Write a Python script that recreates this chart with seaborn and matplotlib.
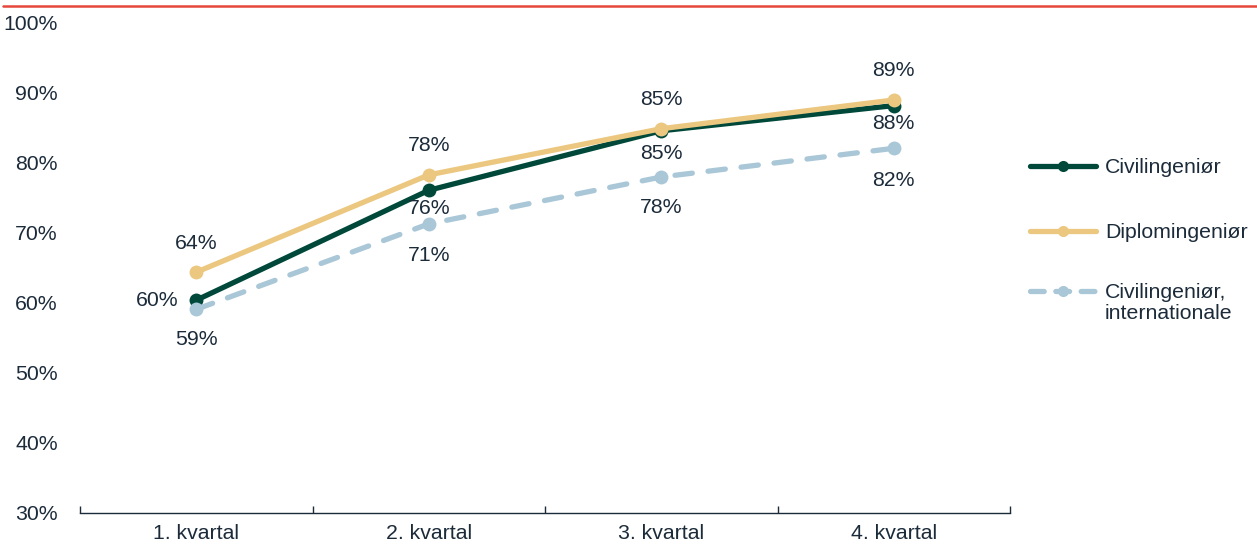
import matplotlib
matplotlib.use("Agg")
import matplotlib.pyplot as plt
from matplotlib.lines import Line2D
from matplotlib.ticker import FixedLocator, PercentFormatter
import numpy as np
import pandas as pd
import seaborn as sns

# Data
kvartaler = ["1. kvartal", "2. kvartal", "3. kvartal", "4. kvartal"]
civilingenior = [60.4, 76.1, 84.6, 88.2]
diplomingenior = [64.4, 78.3, 84.9, 89.0]
civ_international = [59.1, 71.3, 78.0, 82.1]
series_names = ["Civilingeniør", "Diplomingeniør", "Civilingeniør,\ninternationale"]

colors = ["#00493a", "#ebc77f", "#a9c7d7"]
text_color = "#1c2b3a"
fs = 15.3
dash = (0, (3.3, 3.0))

df = pd.DataFrame({
    "kvartal": kvartaler * 3,
    "andel": civilingenior + diplomingenior + civ_international,
    "serie": [s for s in series_names for _ in kvartaler],
})

sns.set_theme(style="white")
plt.rcParams["font.family"] = ["Liberation Sans", "DejaVu Sans"]

W, H = 1257, 547
fig = plt.figure(figsize=(W / 100, H / 100), dpi=100)
ax = fig.add_axes([80 / W, 1 - 513 / H, 930 / W, 490 / H])

linestyles = ["-", "-", dash]
for name, color, ls in zip(series_names, colors, linestyles):
    sub = df[df["serie"] == name]
    sns.lineplot(data=sub, x="kvartal", y="andel", ax=ax, color=color,
                 linewidth=3.8, linestyle=ls, marker="o", markersize=10,
                 markeredgewidth=0, dash_capstyle="round", solid_capstyle="round",
                 sort=False, legend=False)

# Data labels: (series values, offsets in points)
label_sets = [
    (civilingenior, [(-28, 0), (0, -13), (0, -16), (0, -13)]),
    (diplomingenior, [(0, 21), (0, 21), (0, 21), (0, 21)]),
    (civ_international, [(0, -22), (0, -23), (0, -22), (0, -23)]),
]
for vals, offs in label_sets:
    for i, (v, (dx, dy)) in enumerate(zip(vals, offs)):
        ax.annotate(f"{v:.0f}%", (i, v), xytext=(dx, dy), textcoords="offset points",
                    ha="center", va="center", fontsize=fs, color=text_color)

ax.set_xlim(-0.5, 3.5)
ax.set_ylim(30, 100)
ax.yaxis.set_major_locator(FixedLocator(np.arange(30, 101, 10)))
ax.yaxis.set_major_formatter(PercentFormatter(decimals=0))
ax.set_xlabel("")
ax.set_ylabel("")

for side in ["left", "right", "top"]:
    ax.spines[side].set_visible(False)
ax.spines["bottom"].set_color(text_color)
ax.spines["bottom"].set_linewidth(1.0)

ax.tick_params(axis="y", length=0, pad=16, labelsize=fs, labelcolor=text_color)
ax.tick_params(axis="x", which="major", bottom=True, length=0, pad=8,
               labelsize=fs, labelcolor=text_color)
ax.xaxis.set_minor_locator(FixedLocator([-0.5, 0.5, 1.5, 2.5, 3.5]))
ax.tick_params(axis="x", which="minor", bottom=True, direction="in", length=5,
               width=1.0, color=text_color)
ax.grid(False)

# Legend, drawn as keys with the handle level with the first text line
legend_rows = [166, 231, 291]
legend_styles = ["-", "-", (0, (2.6, 2.2))]
for name, color, ls, yrow in zip(series_names, colors, legend_styles, legend_rows):
    yf = 1 - yrow / H
    fig.add_artist(Line2D([1030 / W, 1096 / W], [yf, yf], color=color, lw=3.8,
                          linestyle=ls, solid_capstyle="round", dash_capstyle="round",
                          transform=fig.transFigure))
    fig.add_artist(Line2D([1063 / W], [yf], color=color, marker="o", markersize=8,
                          markeredgewidth=0, linestyle="none",
                          transform=fig.transFigure))
    fig.text(1105 / W, 1 - (yrow - 8) / H, name, ha="left", va="top",
             fontsize=fs, color=text_color, linespacing=1.15)

# Red rule across the top
fig.add_artist(Line2D([3 / W, 1.0], [1 - 6 / H, 1 - 6 / H], color="#e5473c",
                      lw=1.8, transform=fig.transFigure))

fig.savefig("out.png", dpi=100)
